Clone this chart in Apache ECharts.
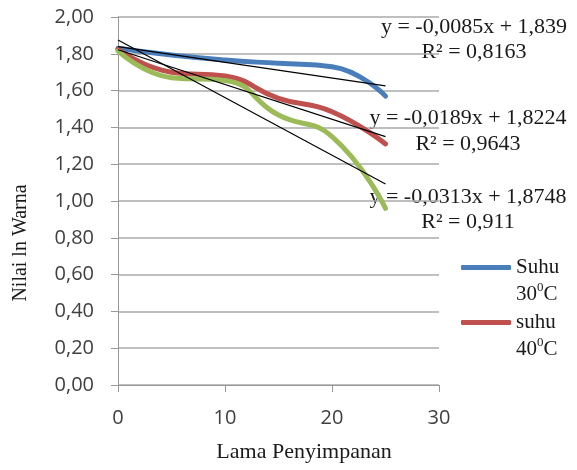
<!DOCTYPE html>
<html>
<head>
<meta charset="utf-8">
<script src="https://cdn.jsdelivr.net/npm/echarts@6/dist/echarts.min.js"></script>
<style>
html,body{margin:0;padding:0;background:#fff;}
#c{width:577px;height:470px;}
</style>
</head>
<body>
<div id="c"></div>
<script>
// Data
const days = [0, 5, 10, 15, 20, 25];
const suhu30 = [1.83, 1.793, 1.766, 1.748, 1.73, 1.57];
const suhu40 = [1.825, 1.70, 1.679, 1.558, 1.485, 1.31];
const suhu50 = [1.815, 1.67, 1.655, 1.467, 1.35, 0.96];
const trendX = [0, 25];
const trend30 = [1.839, 1.626];
const trend40 = [1.822, 1.350];
const trend50 = [1.875, 1.092];
const yTicks = ['0,00','0,20','0,40','0,60','0,80','1,00','1,20','1,40','1,60','1,80','2,00'];
const xTicks = ['0','10','20','30'];
const eq1 = ['y = -0,0085x + 1,839', 'R² = 0,8163'];
const eq2 = ['y = -0,0189x + 1,8224', 'R² = 0,9643'];
const eq3 = ['y = -0,0313x + 1,8748', 'R² = 0,911'];

const pairs = (xs, ys) => xs.map((x, i) => [x, ys[i]]);
const serif = '"Liberation Serif", "Times New Roman", serif';
const sans = '"Open Sans", "Liberation Sans", sans-serif';

const chart = echarts.init(document.getElementById('c'), null, {renderer: 'canvas'});

function colored(name, color, ys) {
  return {
    name: name, type: 'line', data: pairs(days, ys), smooth: 0.5,
    symbol: 'none', z: 2,
    lineStyle: {color: color, width: 5, cap: 'round', join: 'round'},
    itemStyle: {color: color}
  };
}
function trend(ys) {
  return {
    type: 'line', data: pairs(trendX, ys), symbol: 'none', z: 3,
    lineStyle: {color: '#000', width: 1.2}, silent: true
  };
}
const legendRich = {
  t: {fontFamily: serif, fontSize: 21, color: '#1a1a1a', lineHeight: 27},
  s: {fontFamily: serif, fontSize: 13, color: '#1a1a1a', lineHeight: 27, verticalAlign: 'top', padding: [0, 0, 0, 0]}
};
function legendFmt(n) {
  if (n === 'Suhu 30°C') return '{t| }\n{t|Suhu}\n{t|30}{s|0}{t|C}';
  return '{t| }\n{t|suhu}\n{t|40}{s|0}{t|C}';
}

chart.setOption({
  animation: false,
  backgroundColor: '#fff',
  grid: {left: 118, right: 138, top: 17, bottom: 85},
  xAxis: {
    type: 'value', min: 0, max: 30, interval: 10,
    axisLine: {show: true, lineStyle: {color: '#999', width: 1}},
    axisTick: {show: true, length: 7, lineStyle: {color: '#999'}},
    splitLine: {show: false},
    axisLabel: {margin: 23, fontFamily: sans, fontSize: 20, color: '#404040',
      formatter: v => xTicks[Math.round(v / 10)]},
    name: 'Lama Penyimpanan', nameLocation: 'middle', nameGap: 56,
    nameTextStyle: {fontFamily: serif, fontSize: 22, color: '#1a1a1a', padding: [0, 0, 0, 51]}
  },
  yAxis: {
    type: 'value', min: 0, max: 2, interval: 0.2,
    axisLine: {show: true, lineStyle: {color: '#999', width: 1}},
    axisTick: {show: true, length: 7, lineStyle: {color: '#999'}},
    splitLine: {show: true, lineStyle: {color: '#aaa', width: 1.5}},
    axisLabel: {margin: 24, fontFamily: sans, fontSize: 20, color: '#404040',
      formatter: v => yTicks[Math.round(v / 0.2)]},
    name: 'Nilai ln Warna', nameLocation: 'middle', nameGap: 87,
    nameTextStyle: {fontFamily: serif, fontSize: 20, color: '#1a1a1a', padding: [0, 84, 0, 0]}
  },
  legend: [
    {data: ['Suhu 30°C'], left: 461, top: 230, padding: 0, itemWidth: 50, itemHeight: 5, itemGap: 5,
     icon: 'roundRect', formatter: legendFmt, textStyle: {rich: legendRich}},
    {data: ['suhu 40°C'], left: 461, top: 285, padding: 0, itemWidth: 50, itemHeight: 5, itemGap: 5,
     icon: 'roundRect', formatter: legendFmt, textStyle: {rich: legendRich}}
  ],
  graphic: [
    {type: 'text', x: 474, y: 40, style: {text: eq1.join('\n'), font: '22px ' + serif, fill: '#1a1a1a', align: 'center', verticalAlign: 'middle', lineHeight: 25}},
    {type: 'text', x: 468, y: 131, style: {text: eq2.join('\n'), font: '22px ' + serif, fill: '#1a1a1a', align: 'center', verticalAlign: 'middle', lineHeight: 26}},
    {type: 'text', x: 468, y: 209.5, style: {text: eq3.join('\n'), font: '22px ' + serif, fill: '#1a1a1a', align: 'center', verticalAlign: 'middle', lineHeight: 25}}
  ],
  series: [
    colored('Suhu 30°C', '#4a7ebb', suhu30),
    colored('suhu 40°C', '#c0504d', suhu40),
    colored('suhu 50°C', '#9bbb59', suhu50),
    trend(trend30), trend(trend40), trend(trend50)
  ]
});
</script>
</body>
</html>
